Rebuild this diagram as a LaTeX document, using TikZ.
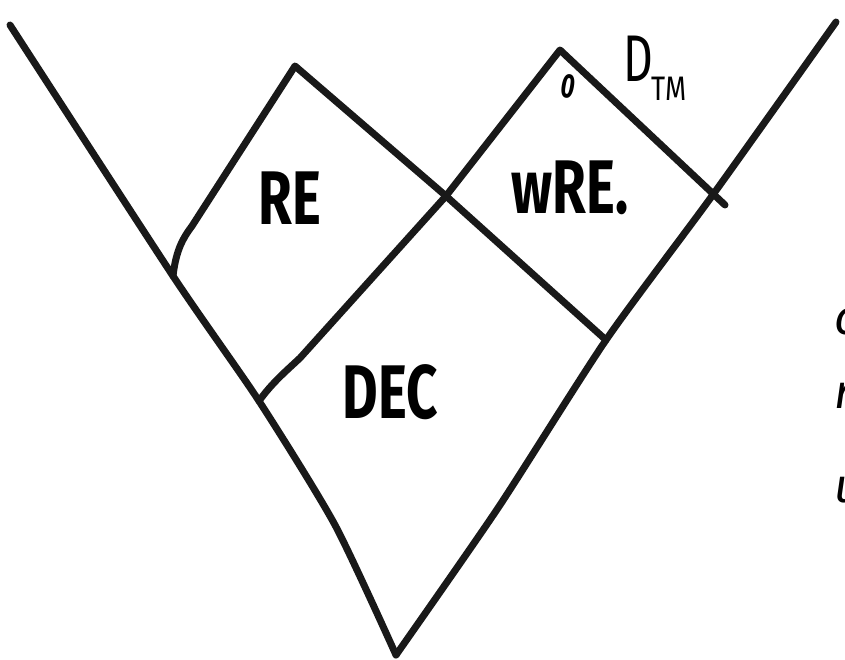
\documentclass[tikz,border=0pt]{standalone}
\usepackage{fontspec}
\setsansfont{Fira Sans}
\usepackage{tikz}
\usetikzlibrary{positioning}

\begin{document}
\begin{tikzpicture}[
    x=1pt, y=1pt,
    pen/.style={line width=7pt, line cap=round, line join=round, black!90},
    big/.style={font=\fontsize{76}{80}\selectfont\sffamily\bfseries, inner sep=0pt},
    small/.style={font=\fontsize{34}{36}\selectfont\sffamily, inner sep=0pt},
    edge/.style={font=\fontsize{48}{50}\selectfont\sffamily\itshape, inner sep=0pt, anchor=west}
]
\useasboundingbox (0,0) rectangle (845,-660);
\clip (0,0) rectangle (845,-660);
% corners of the V
\coordinate (topleft) at (10,-25);
\coordinate (topright) at (836,-22);
\coordinate (bottom) at (396,-655);
% points on the sides
\coordinate (leftA) at (173,-276);
\coordinate (leftB) at (259,-401);
\coordinate (rightA) at (606,-340);
\coordinate (rightB) at (712,-196);
% box corners
\coordinate (retop) at (295,-66);
\coordinate (cross) at (446,-196);
\coordinate (wretop) at (560,-50);
\coordinate (wreend) at (725,-205);

% outer V
\draw[pen] plot[smooth, tension=0.4] coordinates {(topleft) (leftA) (leftB) (335,-525) (bottom)};
\draw[pen] plot[smooth, tension=0.4] coordinates {(topright) (rightB) (rightA) (498,-508) (bottom)};
% RE box
\draw[pen] (leftA) .. controls (176,-250) and (183,-238) .. (192,-226) -- (retop) -- (cross) -- (rightA);
% DEC / wRE. divider
\draw[pen] (leftB) .. controls (272,-383) and (285,-372) .. (300,-358) -- (cross) -- (wretop) -- (wreend);

% labels
\node[big] (re) at (290,-198) {\scalebox{0.72}[1]{RE}};
\node[big] (wre) at (570,-188) {\scalebox{0.72}[1]{wRE.}};
\node[big] (dec) at (390,-392) {\scalebox{0.72}[1]{DEC}};
\node[small, rotate=-10] (zero) at (568,-86) {\scalebox{0.7}[1]{\bfseries 0}};
\node[font=\fontsize{66}{68}\selectfont\sffamily, inner sep=0pt] (dtm) at (638,-59) {\scalebox{0.7}[1]{D}};
\node[font=\fontsize{34}{36}\selectfont\sffamily, inner sep=0pt] (tm) at (669,-89) {\scalebox{0.8}[1]{TM}};

% cut-off letters at the right edge
\node[edge] (cutc) at (834,-322) {c};
\node[edge] (cutr) at (834,-396) {r};
\node[edge] (cutu) at (834,-490) {u};
\end{tikzpicture}
\end{document}
